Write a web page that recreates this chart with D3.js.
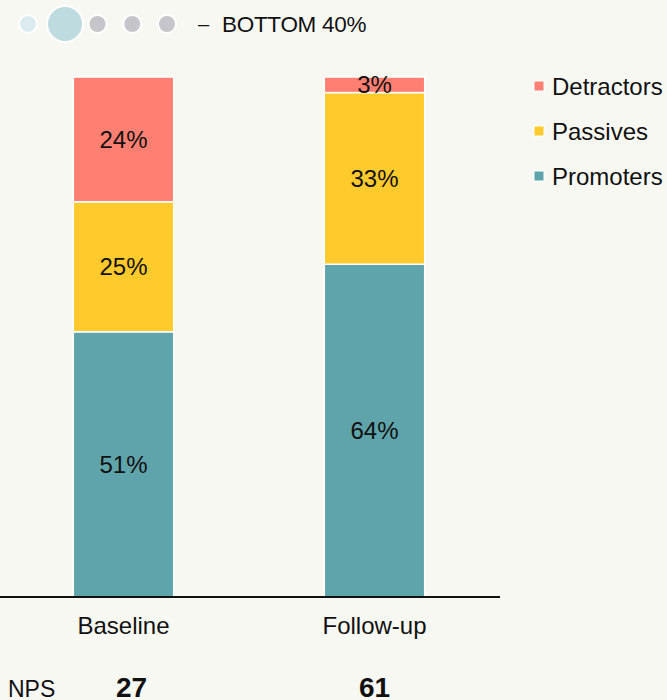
<!DOCTYPE html>
<html>
<head>
<meta charset="utf-8">
<script src="https://cdn.jsdelivr.net/npm/d3@7"></script>
<style>
  body { margin: 0; background: #f8f8f3; }
  svg { display: block; font-family: "Liberation Sans", Arial, sans-serif; }
</style>
</head>
<body>
<div id="chart"></div>
<script>
// data
var groups = ["Baseline", "Follow-up"];
var promoters = [51, 64];
var passives = [25, 33];
var detractors = [24, 3];
var nps = [27, 61];
var keys = ["Promoters", "Passives", "Detractors"];
var legendKeys = ["Detractors", "Passives", "Promoters"];
var colors = ["#5fa4aa", "#ffca2b", "#ff8073"];
var dots = [0, 1, 2, 3, 4];   // filter dots, index 1 is selected
var filterLabel = "BOTTOM 40%";

var width = 667, height = 700;
var margin = {top: 77, bottom: 103};

var svg = d3.select("#chart").append("svg")
  .attr("width", width)
  .attr("height", height);

var rows = groups.map(function (g, i) {
  return {group: g, Promoters: promoters[i], Passives: passives[i], Detractors: detractors[i]};
});

var stacked = d3.stack().keys(keys)(rows);

var x = d3.scaleBand()
  .domain(groups)
  .range([-2, 500])
  .paddingInner(0.6)
  .paddingOuter(0.3);

var y = d3.scaleLinear()
  .domain([0, 100])
  .range([height - margin.bottom, margin.top]);

var color = d3.scaleOrdinal().domain(keys).range(colors);

// bars
var layer = svg.selectAll("g.layer")
  .data(stacked)
  .enter().append("g")
  .attr("class", "layer")
  .attr("fill", d => color(d.key));

layer.selectAll("rect")
  .data(d => d)
  .enter().append("rect")
  .attr("x", d => x(d.data.group))
  .attr("y", d => y(d[1]))
  .attr("width", x.bandwidth())
  .attr("height", d => y(d[0]) - y(d[1]))
  .attr("stroke", "#ffffff")
  .attr("stroke-width", 1.5);

layer.selectAll("text")
  .data(d => d)
  .enter().append("text")
  .attr("x", d => x(d.data.group) + x.bandwidth() / 2)
  .attr("y", d => (y(d[0]) + y(d[1])) / 2)
  .attr("dy", "0.36em")
  .attr("text-anchor", "middle")
  .attr("fill", "#111")
  .style("font-size", "24px")
  .text(d => (d[1] - d[0]) + "%");

// x axis
var xAxis = svg.append("g")
  .attr("transform", `translate(0,${y(0)})`)
  .call(d3.axisBottom(x).tickSize(0).tickPadding(20));
xAxis.select(".domain").attr("d", "M0,0H500").attr("stroke", "#111").attr("stroke-width", 2);
xAxis.selectAll("text")
  .attr("fill", "#111")
  .style("font-family", "Liberation Sans, Arial, sans-serif")
  .style("font-size", "24px");

// NPS row
svg.append("text")
  .attr("x", 8)
  .attr("y", 697)
  .attr("fill", "#111")
  .style("font-size", "23px")
  .text("NPS");

svg.selectAll("text.nps")
  .data(groups)
  .enter().append("text")
  .attr("class", "nps")
  .attr("x", (d, i) => x(d) + x.bandwidth() / 2 + (i == 0 ? 8 : 0))
  .attr("y", 697)
  .attr("text-anchor", "middle")
  .attr("fill", "#111")
  .style("font-size", "28px")
  .style("font-weight", "bold")
  .text((d, i) => nps[i]);

// legend
var legend = svg.selectAll("g.legend")
  .data(legendKeys)
  .enter().append("g")
  .attr("class", "legend")
  .attr("transform", (d, i) => `translate(534,${86 + i * 45})`);

legend.append("rect")
  .attr("x", 0)
  .attr("y", -5)
  .attr("width", 10)
  .attr("height", 10)
  .attr("fill", d => color(d))
  .attr("stroke", "#fff")
  .attr("stroke-width", 1);

legend.append("text")
  .attr("x", 18)
  .attr("dy", "0.36em")
  .attr("fill", "#111")
  .style("font-size", "24px")
  .text(d => d);

// top filter dots
var dotX = d3.scalePoint().domain(dots).range([28, 167]);
svg.selectAll("circle.dot")
  .data(dots)
  .enter().append("circle")
  .attr("class", "dot")
  .attr("cx", d => d == 0 ? 28 : d == 1 ? 65 : dotX(d))
  .attr("cy", 24)
  .attr("r", d => d == 1 ? 18 : 9)
  .attr("fill", d => d == 0 ? "#dcebee" : d == 1 ? "#bedce0" : "#c6c6ca")
  .attr("stroke", "#fff")
  .attr("stroke-width", 2);

svg.append("text")
  .attr("x", 198)
  .attr("y", 24)
  .attr("dy", "0.36em")
  .attr("fill", "#111")
  .style("font-size", "20px")
  .text("–");

svg.append("text")
  .attr("x", 222)
  .attr("y", 24)
  .attr("dy", "0.36em")
  .attr("fill", "#111")
  .style("font-size", "22.5px")
  .style("letter-spacing", "-0.3px")
  .text(filterLabel);
</script>
</body>
</html>
